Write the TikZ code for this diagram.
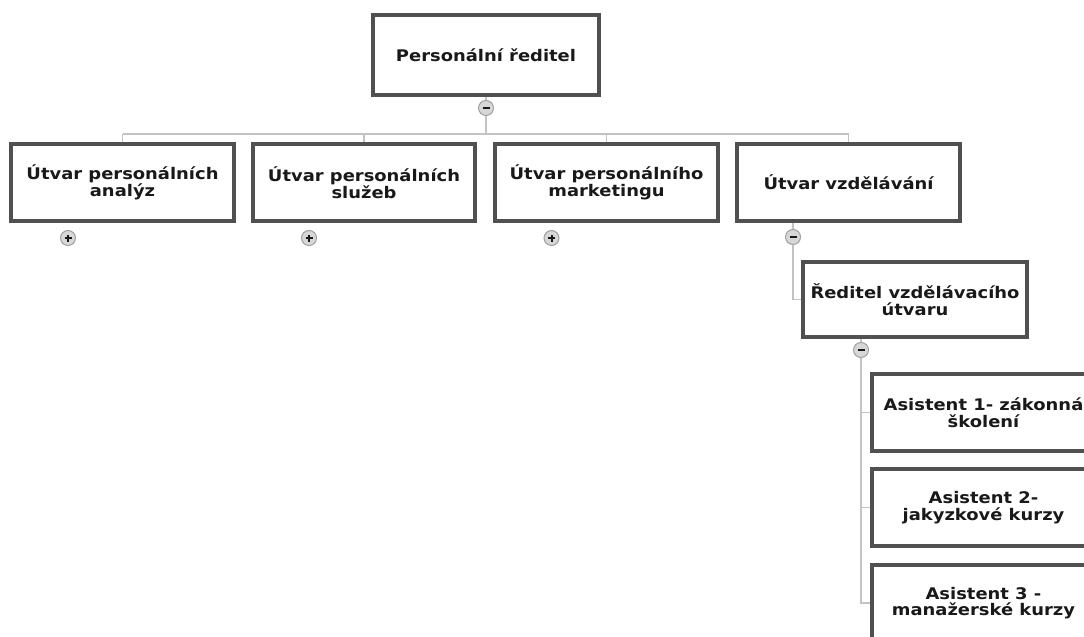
\documentclass[tikz,border=0pt]{standalone}
\usepackage{fontspec}
\setmainfont{DejaVu Sans}
\newfontfamily\boxfont[FakeStretch=1.12]{DejaVu Sans Bold}
\definecolor{boxline}{RGB}{80,80,80}
\definecolor{conn}{RGB}{195,195,195}
\definecolor{txt}{RGB}{25,25,25}
\definecolor{knobfill}{RGB}{215,215,215}
\definecolor{knobline}{RGB}{160,160,160}
\begin{document}
\begin{tikzpicture}[x=1pt,y=-1pt,
  orgbox/.style={draw=boxline, line width=2.6pt, fill=white, rectangle, align=center,
    minimum width=221pt, minimum height=76pt, inner sep=0pt,
    font=\boxfont\fontsize{16}{16.5}\selectfont, text=txt},
  link/.style={draw=conn, line width=1.4pt},
  knob/.style={circle, draw=knobline, fill=knobfill, line width=1pt, minimum size=15pt, inner sep=0pt},
  minus/.style={knob, path picture={\draw[txt, line width=2pt] ([xshift=-3.5pt]path picture bounding box.center) -- ([xshift=3.5pt]path picture bounding box.center);}},
  plus/.style={knob, path picture={\draw[txt, line width=2pt] ([xshift=-3.5pt]path picture bounding box.center) -- ([xshift=3.5pt]path picture bounding box.center) ([yshift=-3.5pt]path picture bounding box.center) -- ([yshift=3.5pt]path picture bounding box.center);}}
]
\useasboundingbox (0,0) rectangle (1084,637);
\fill[white] (0,0) rectangle (1084,637);

% boxes
\node[orgbox, minimum width=224pt, minimum height=78pt] (top) at (486,55) {Personální ředitel};
\node[orgbox] (a1) at (122.5,182.5) {Útvar personálních\\analýz};
\node[orgbox] (a2) at (364,182.5) {Útvar personálních\\služeb};
\node[orgbox] (a3) at (606.5,182.5) {Útvar personálního\\marketingu};
\node[orgbox] (a4) at (848.5,182.5) {Útvar vzdělávání};
\node[orgbox, minimum width=223pt, minimum height=73pt] (b) at (915,299.5) {Ředitel vzdělávacího\\útvaru};
\node[orgbox, minimum height=75pt] (c1) at (983.5,412.5) {Asistent 1- zákonná\\školení};
\node[orgbox, minimum height=75pt] (c2) at (983.5,507.5) {Asistent 2-\\jakyzkové kurzy};
\node[orgbox, minimum height=75pt] (c3) at (983.5,603) {Asistent 3 -\\manažerské kurzy};

% knobs
\node[minus] (m0) at (486,108) {};
\node[plus] (p1) at (68,238) {};
\node[plus] (p2) at (309,238) {};
\node[plus] (p3) at (551.5,238) {};
\node[minus] (m4) at (793,237) {};
\node[minus] (m5) at (861,350) {};
\coordinate (bus) at (486,134);

% connectors
\path[link] (top.south) -- (m0.north);
\path[link] (m0.south) -- (bus);
\path[link] (a1.north |- bus) -- (a4.north |- bus);
\foreach \n in {a1,a2,a3,a4} \path[link] (\n.north |- bus) -- (\n.north);
\path[link] (m4 |- a4.south) -- (m4.north);
\path[link] (m4.south) -- (m4 |- b.west) -- (b.west);
\path[link] (m5 |- b.south) -- (m5.north);
\path[link] (m5.south) -- (m5 |- c3.west) -- (c3.west);
\path[link] (m5 |- c1.west) -- (c1.west);
\path[link] (m5 |- c2.west) -- (c2.west);

% redraw boxes' borders on top
\foreach \n in {top,a1,a2,a3,a4,b,c1,c2,c3}
  \draw[boxline, line width=2.6pt] (\n.south west) rectangle (\n.north east);
\end{tikzpicture}
\end{document}
